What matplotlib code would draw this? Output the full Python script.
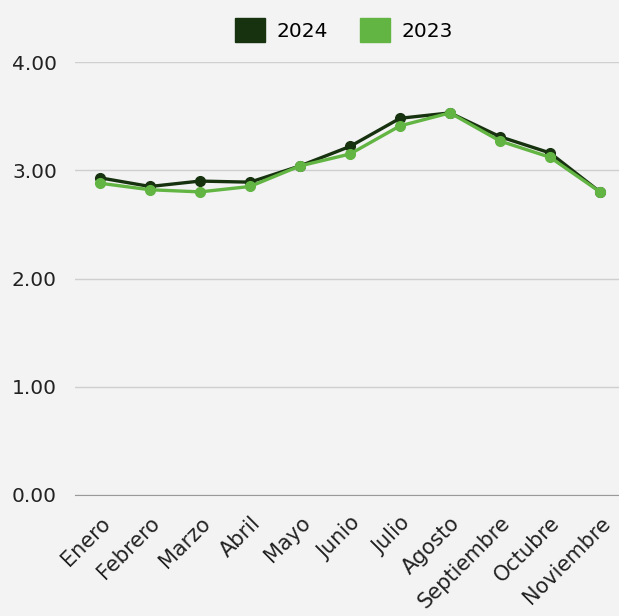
import matplotlib
matplotlib.use("Agg")
import matplotlib.pyplot as plt
import matplotlib.transforms as mtransforms

# %% data
months = ["Enero", "Febrero", "Marzo", "Abril", "Mayo", "Junio", "Julio",
          "Agosto", "Septiembre", "Octubre", "Noviembre"]
vals_2024 = [2.93, 2.85, 2.90, 2.89, 3.04, 3.22, 3.48, 3.53, 3.31, 3.16, 2.80]
vals_2023 = [2.88, 2.82, 2.80, 2.85, 3.04, 3.15, 3.41, 3.53, 3.27, 3.12, 2.80]
yticks = [0, 1, 2, 3, 4]

bg = "#f3f3f3"
dark = "#17320f"
light = "#62b543"

plt.rcParams['font.family'] = ['DejaVu Sans']

fig = plt.figure(figsize=(6.19, 6.16), dpi=100, facecolor=bg)
ax = fig.add_axes([75 / 619, 1 - 495 / 616, 550 / 619, 433 / 616])
ax.set_facecolor(bg)

x = list(range(len(months)))
ax.plot(x, vals_2024, color=dark, lw=2.4, marker='o', ms=7, label='2024', zorder=3)
ax.plot(x, vals_2023, color=light, lw=2.4, marker='o', ms=7, label='2023', zorder=4)

ax.set_xlim(-0.5, len(months) - 0.5)
ax.set_ylim(0, 4)
ax.set_yticks(yticks)
ax.set_yticklabels([f"{v:.2f}" for v in yticks], fontsize=14.5, color='#222222')
ax.yaxis.grid(True, color='#cfcfcf', lw=1)
ax.set_axisbelow(True)
for s in ['top', 'right', 'left']:
    ax.spines[s].set_visible(False)
ax.spines['bottom'].set_color('#999999')
ax.tick_params(axis='both', length=0)
ax.tick_params(axis='y', pad=13)

ax.set_xticks(x)
ax.set_xticklabels(months, fontsize=15, color='#222222', rotation=45,
                   ha='right', va='center', rotation_mode='anchor')
ax.tick_params(axis='x', pad=18)
offset = mtransforms.ScaledTranslation(7 / 100, 0, fig.dpi_scale_trans)
for lbl in ax.get_xticklabels():
    lbl.set_transform(lbl.get_transform() + offset)

handles = [plt.Rectangle((0, 0), 1, 1, color=dark),
           plt.Rectangle((0, 0), 1, 1, color=light)]
fig.legend(handles, ['2024', '2023'], loc='upper center', bbox_to_anchor=(0.556, 1.0),
           ncol=2, frameon=False, fontsize=14.5, handlelength=1.45, handleheight=1.45,
           columnspacing=1.6, handletextpad=0.6)

fig.savefig("out.png", dpi=100, facecolor=bg)
